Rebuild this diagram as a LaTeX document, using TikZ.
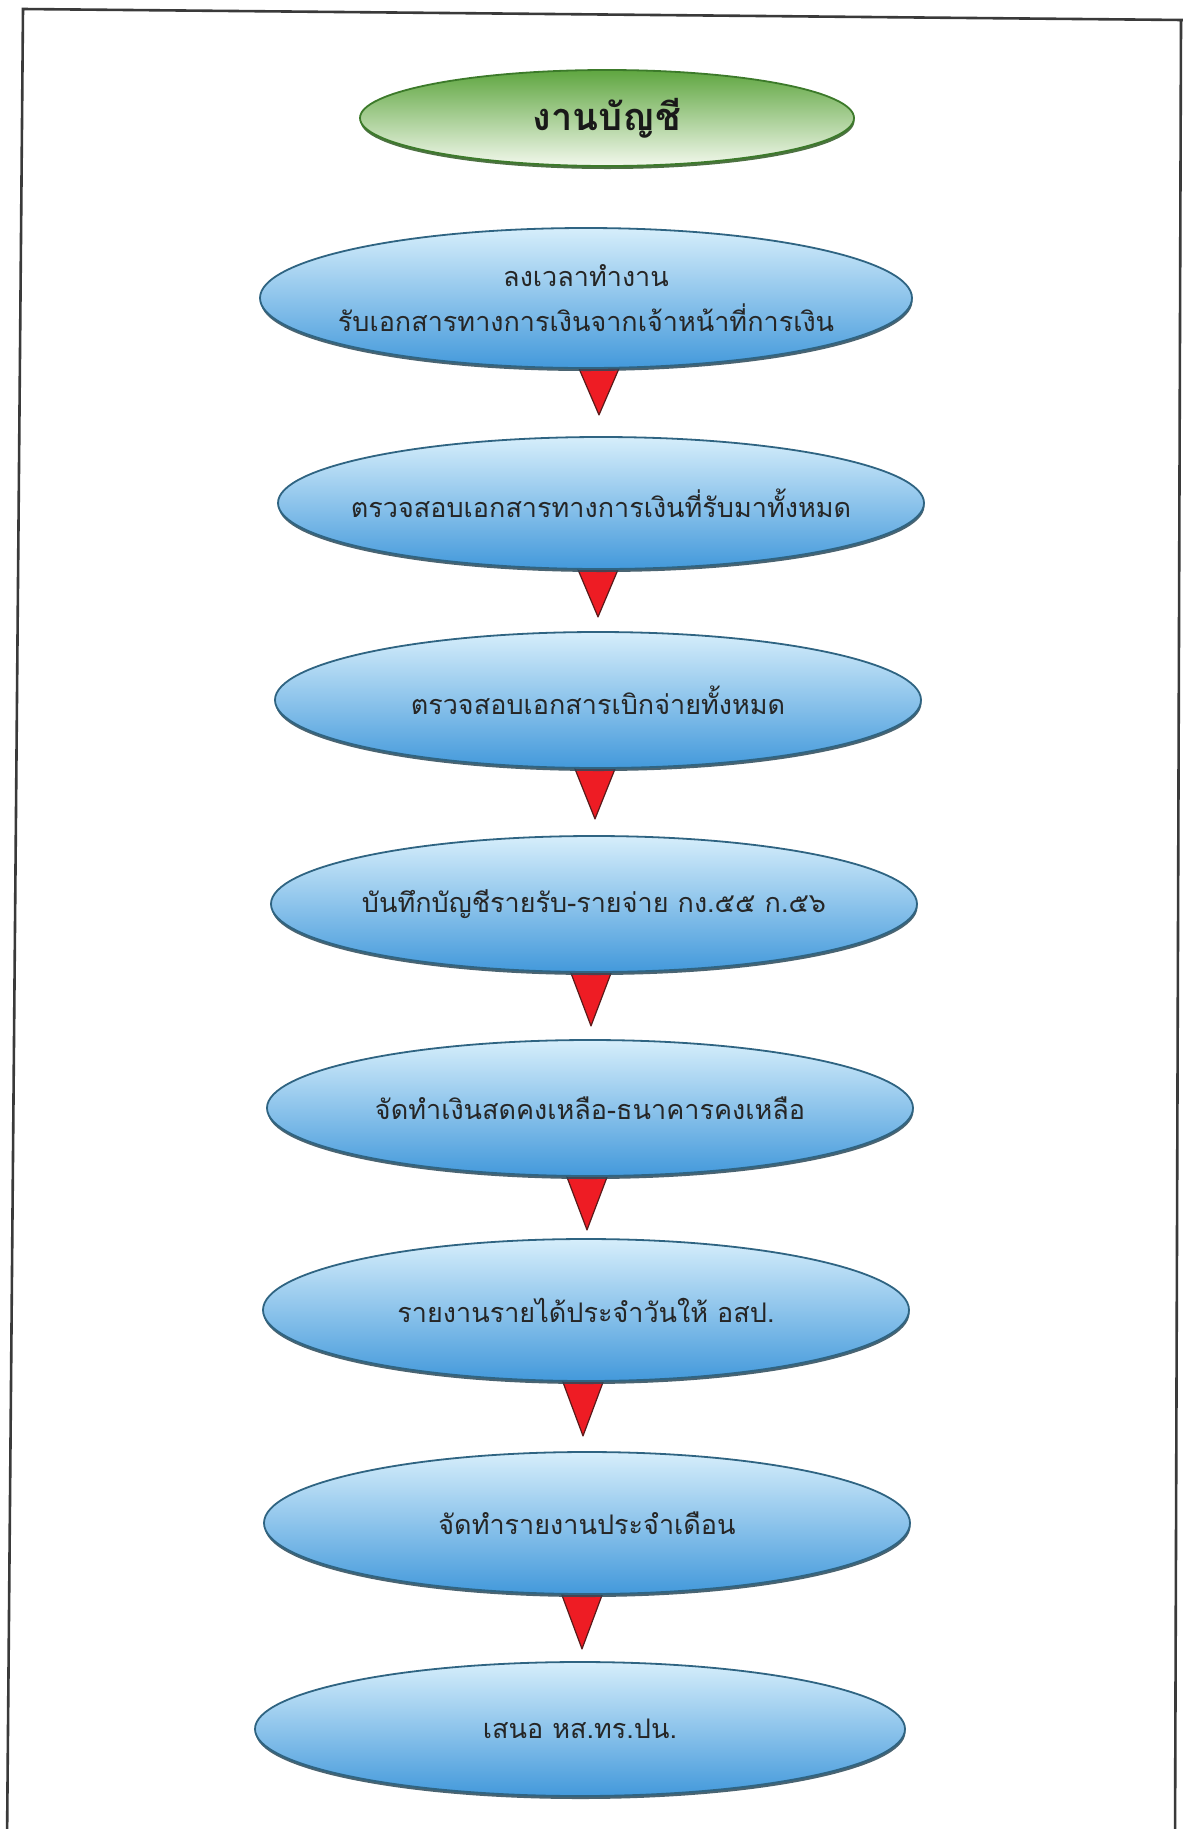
\documentclass[tikz,border=0pt]{standalone}
\usepackage{fontspec}
\newfontfamily\thaifont[Script=Thai]{Loma}
\usetikzlibrary{shapes.geometric,calc,shadows}

\definecolor{framegray}{HTML}{3A3A3A}
\definecolor{bluetop}{HTML}{D6EEFB}
\definecolor{bluemid}{HTML}{93CBEF}
\definecolor{bluebot}{HTML}{4399DB}
\definecolor{blueedge}{HTML}{2F6482}
\definecolor{bluerim}{HTML}{2B4A5A}
\definecolor{greentop}{HTML}{5FA640}
\definecolor{greenmid}{HTML}{B9DBA2}
\definecolor{greenbot}{HTML}{F2F8EC}
\definecolor{greenedge}{HTML}{3C7A2A}
\definecolor{greenrim}{HTML}{2E5A22}
\definecolor{tipred}{HTML}{EE1C24}
\definecolor{tipedge}{HTML}{5A1A1A}
\definecolor{labeltext}{HTML}{262626}

\pgfdeclarelayer{behind}
\pgfsetlayers{behind,main}

\begin{document}
\begin{tikzpicture}[x=1pt,y=-1pt,
  % negative x padding keeps the long labels from widening the ellipses
  stepbox/.style={ellipse, draw=blueedge, line width=1.8pt,
    top color=bluetop, middle color=bluemid, bottom color=bluebot,
    drop shadow={shadow xshift=0.5pt, shadow yshift=-3pt, fill=bluerim, opacity=0.85},
    minimum width=646pt, minimum height=136pt, inner xsep=-100pt, inner ysep=0pt,
    text=labeltext, align=center,
    font=\thaifont\fontsize{27}{45}\selectfont},
  titlebox/.style={ellipse, draw=greenedge, line width=1.8pt,
    top color=greentop, middle color=greenmid, bottom color=greenbot,
    drop shadow={shadow xshift=0.5pt, shadow yshift=-3pt, fill=greenrim, opacity=0.85},
    minimum width=494pt, minimum height=96pt, inner sep=0pt,
    text=black!90, font=\thaifont\bfseries\fontsize{38}{44}\selectfont},
  redtip/.style={fill=tipred, draw=tipedge, line width=1.2pt, line join=round},
]
\begin{pgfonlayer}{behind}
\useasboundingbox (0,0) rectangle (1183,1829);
\fill[white] (0,0) rectangle (1183,1829);
% page frame (bottom edge runs below the page)
\draw[framegray, line width=2.6pt]
  (7,1845) -- (23,9) -- (1183,20) -- (1181,20) -- (1175,1845);
\end{pgfonlayer}

% flow steps
\node[titlebox] (title) at (607,118) {งานบัญชี};
\node[stepbox, minimum width=652pt, minimum height=140pt] (e1) at (586,298)
  {ลงเวลาทำงาน\\รับเอกสารทางการเงินจากเจ้าหน้าที่การเงิน};
\node[stepbox, minimum height=132pt] (e2) at (601,503) {ตรวจสอบเอกสารทางการเงินที่รับมาทั้งหมด};
\node[stepbox] (e3) at (598,700) {ตรวจสอบเอกสารเบิกจ่ายทั้งหมด};
\node[stepbox] (e4) at (594,904) {บันทึกบัญชีรายรับ-รายจ่าย กง.๕๕ ก.๕๖};
\node[stepbox] (e5) at (590,1108) {จัดทำเงินสดคงเหลือ-ธนาคารคงเหลือ};
\node[stepbox, minimum height=142pt] (e6) at (586,1310) {รายงานรายได้ประจำวันให้ อสป.};
\node[stepbox, minimum height=142pt] (e7) at (587,1523) {จัดทำรายงานประจำเดือน};
\node[stepbox, minimum width=650pt, minimum height=134pt] (e8) at (580,1729) {เสนอ หส.ทร.ปน.};

% red tips hanging below each step, tucked behind its lower rim
\begin{pgfonlayer}{behind}
\foreach \a/\dx/\h in {e1/13/51, e2/-3/52, e3/-3/55, e4/-3/58, e5/-3/58, e6/-3/59, e7/-5/59}{
  \coordinate (tip) at ($(\a.south)+(\dx,-5)$);
  \draw[redtip] ($(tip)+(-22,0)$) -- ($(tip)+(22,0)$) -- ($(tip)+(0,\h)$) -- cycle;
}
\end{pgfonlayer}
\end{tikzpicture}
\end{document}
